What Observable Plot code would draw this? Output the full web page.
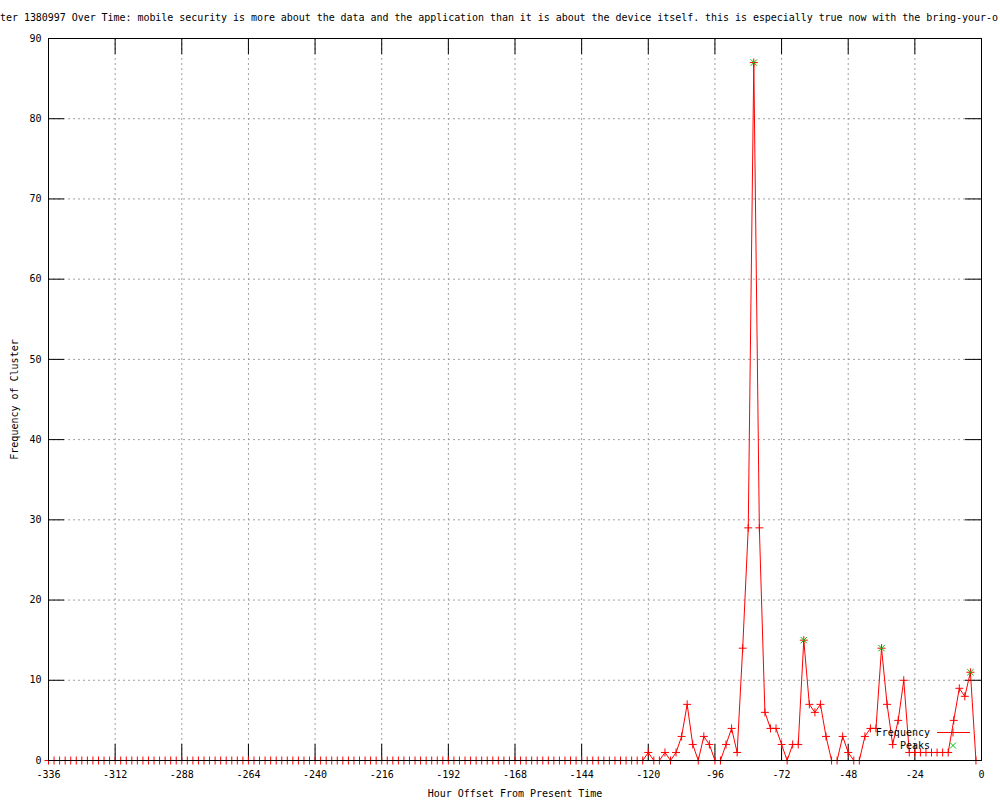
<!DOCTYPE html>
<html><head><meta charset="utf-8">
<script src="https://cdn.jsdelivr.net/npm/d3@7"></script>
<script src="https://cdn.jsdelivr.net/npm/@observablehq/plot@0.6"></script>
<style>
body{margin:0;background:#fff;}
#wrap{position:relative;width:1000px;height:800px;overflow:hidden;font-family:"DejaVu Sans Mono",monospace;font-size:10px;color:#000;}
#title{position:absolute;left:0;top:12px;line-height:12px;white-space:pre;letter-spacing:-0.045px;}
#legend{position:absolute;left:0;top:0;}
</style></head><body>
<div id="wrap"><div id="title"></div></div>
<script>
const titleText = "ter 1380997 Over Time: mobile security is more about the data and the application than it is about the device itself. this is especially true now with the bring-your-o";
const xLabel = "Hour Offset From Present Time";
const yLabel = "Frequency of Cluster";
const xTicks = [-336,-312,-288,-264,-240,-216,-192,-168,-144,-120,-96,-72,-48,-24,0];
const yTicks = [0,10,20,30,40,50,60,70,80,90];
const legendLabels = ["Frequency","Peaks"];

const hourOffsets = [
-336,-334,-332,-330,-328,-326,-324,-322,-320,-318,
-316,-314,-312,-310,-308,-306,-304,-302,-300,-298,
-296,-294,-292,-290,-288,-286,-284,-282,-280,-278,
-276,-274,-272,-270,-268,-266,-264,-262,-260,-258,
-256,-254,-252,-250,-248,-246,-244,-242,-240,-238,
-236,-234,-232,-230,-228,-226,-224,-222,-220,-218,
-216,-214,-212,-210,-208,-206,-204,-202,-200,-198,
-196,-194,-192,-190,-188,-186,-184,-182,-180,-178,
-176,-174,-172,-170,-168,-166,-164,-162,-160,-158,
-156,-154,-152,-150,-148,-146,-144,-142,-140,-138,
-136,-134,-132,-130,-128,-126,-124,-122,
-120,-118,-116,-114,-112,-110,-108,-106,-104,-102,
-100,-98,-96,-94,-92,-90,-88,-86,-84,-82,
-80,-78,-76,-74,-72,-70,-68,-66,-64,-62,
-60,-58,-56,-54,-52,-50,-48,-46,-44,-42,
-40,-38,-36,-34,-32,-30,-28,-26,-24,-22,
-20,-18,-16,-14,-12,-10,-8,-6,-4,-2
];
const frequency = [
0,0,0,0,0,0,0,0,0,0,
0,0,0,0,0,0,0,0,0,0,
0,0,0,0,0,0,0,0,0,0,
0,0,0,0,0,0,0,0,0,0,
0,0,0,0,0,0,0,0,0,0,
0,0,0,0,0,0,0,0,0,0,
0,0,0,0,0,0,0,0,0,0,
0,0,0,0,0,0,0,0,0,0,
0,0,0,0,0,0,0,0,0,0,
0,0,0,0,0,0,0,0,0,0,
0,0,0,0,0,0,0,0,
1,0,0,1,0,1,3,7,2,0,
3,2,0,0,2,4,1,14,29,87,
29,6,4,4,2,0,2,2,15,7,
6,7,3,0,0,3,1,0,0,3,
4,4,14,7,2,5,10,1,1,1,
1,1,1,1,1,5,9,8,11,0
];
const peakHours = [-82,-64,-36,-4];
const peakValues = [87,15,14,11];

const data = hourOffsets.map((h,i)=>({h, f: frequency[i]}));
const peaks = peakHours.map((h,i)=>({h, f: peakValues[i]}));

const W=1000, H=800, mL=48, mR=19, mT=38, mB=40;
const pw = W-mL-mR, ph = H-mT-mB, tk = 16;
const gridStyle = {stroke:"#a0a0a0", strokeOpacity:1, strokeDasharray:"2,3", strokeWidth:1};

const chart = Plot.plot({
  width: W, height: H,
  marginLeft: mL, marginRight: mR, marginTop: mT, marginBottom: mB,
  style: {fontFamily:'"DejaVu Sans Mono", monospace', fontSize:"10px", background:"white", color:"black", overflow:"visible"},
  x: {domain:[-336,0]},
  y: {domain:[0,90]},
  marks: [
    Plot.gridX(xTicks, gridStyle),
    Plot.gridY(yTicks, gridStyle),
    Plot.ruleX(xTicks, {x:d=>d, insetTop: ph-tk, stroke:"black"}),
    Plot.ruleX(xTicks, {x:d=>d, insetBottom: ph-tk, stroke:"black"}),
    Plot.ruleY(yTicks, {y:d=>d, insetRight: pw-tk, stroke:"black"}),
    Plot.ruleY(yTicks, {y:d=>d, insetLeft: pw-tk, stroke:"black"}),
    Plot.axisX(xTicks, {tickSize:0, tickPadding:10, tickFormat:d=>String(d), label:xLabel, labelAnchor:"center", labelArrow:"none", labelOffset:36}),
    Plot.axisY(yTicks, {tickSize:0, tickPadding:7, tickFormat:d=>String(d), label:yLabel, labelAnchor:"center", labelArrow:"none", labelOffset:38}),
    Plot.lineY(data, {x:"h", y:"f", stroke:"#ff0000", strokeWidth:1}),
    Plot.dot(data, {x:"h", y:"f", symbol:"plus", stroke:"#ff0000", r:2.7, strokeWidth:1}),
    Plot.dot(peaks, {x:"h", y:"f", symbol:"times", stroke:"#00c000", r:3, strokeWidth:1}),
    Plot.frame({stroke:"black", strokeWidth:1})
  ]
});
const wrap = document.getElementById("wrap");
wrap.appendChild(chart);
document.getElementById("title").textContent = titleText;

// legend overlay
const ns = "http://www.w3.org/2000/svg";
const lg = document.createElementNS(ns, "svg");
lg.setAttribute("id","legend");
lg.setAttribute("width", W); lg.setAttribute("height", H);
lg.style.fontFamily = '"DejaVu Sans Mono", monospace';
lg.style.fontSize = "10px";
const items = [
  {label: legendLabels[0], cy: 732.5, kind: "line"},
  {label: legendLabels[1], cy: 745.5, kind: "peak"}
];
for (const it of items) {
  const t = document.createElementNS(ns, "text");
  t.setAttribute("x", 930); t.setAttribute("y", it.cy + 3.5);
  t.setAttribute("text-anchor", "end");
  t.textContent = it.label;
  lg.appendChild(t);
  const p = document.createElementNS(ns, "path");
  if (it.kind === "line") {
    p.setAttribute("d", `M937,${it.cy}H970M953,${it.cy-4}V${it.cy+4}`);
    p.setAttribute("stroke", "#ff0000");
  } else {
    p.setAttribute("d", `M950,${it.cy-3}L956,${it.cy+3}M950,${it.cy+3}L956,${it.cy-3}`);
    p.setAttribute("stroke", "#00c000");
  }
  p.setAttribute("fill", "none");
  lg.appendChild(p);
}
wrap.appendChild(lg);
</script>
</body></html>
